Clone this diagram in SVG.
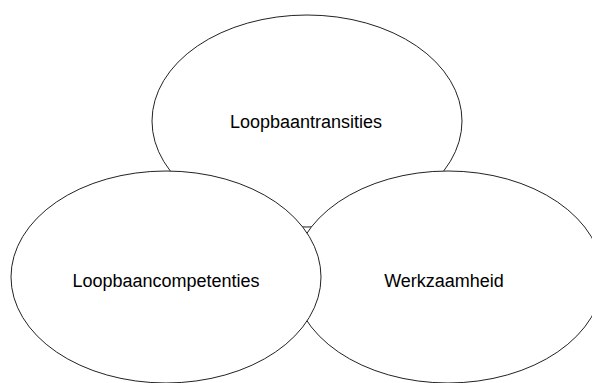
<svg xmlns="http://www.w3.org/2000/svg" width="592" height="383" viewBox="0 0 592 383">
<style>
.node ellipse{fill:#fff;stroke:#222;stroke-width:1}
.node text{font-family:"Liberation Sans",Arial,sans-serif;font-size:18px;fill:#000;text-anchor:middle}
</style>
<rect width="592" height="383" fill="#fff"/>
<g id="connectors"></g>
<g id="loopbaantransities" class="node">
<ellipse cx="307" cy="121" rx="155" ry="106"/>
<text x="306" y="128">Loopbaantransities</text>
</g>
<g id="werkzaamheid" class="node">
<ellipse cx="448" cy="277" rx="155" ry="106"/>
<text x="444" y="287">Werkzaamheid</text>
</g>
<g id="loopbaancompetenties" class="node">
<ellipse cx="166" cy="277" rx="155" ry="106"/>
<text x="166" y="287">Loopbaancompetenties</text>
</g>
</svg>
